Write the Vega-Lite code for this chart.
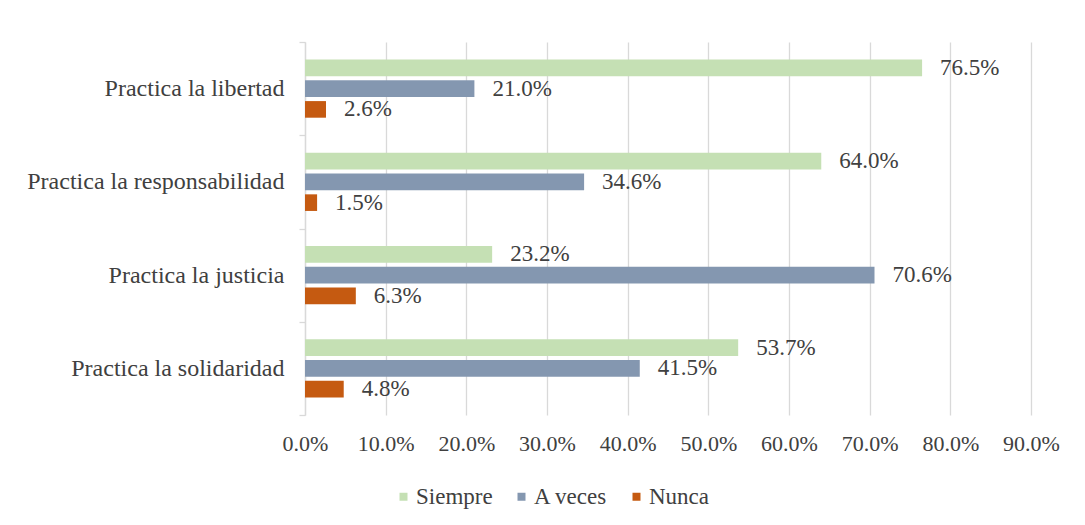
{
  "$schema": "https://vega.github.io/schema/vega-lite/v6.json",
  "width": 726,
  "height": 373,
  "autosize": {"type": "none"},
  "padding": {"left": 305, "top": 42, "right": 54, "bottom": 110},
  "background": "white",
  "config": {"view": {"stroke": null}, "font": "Liberation Serif"},
  "data": {
    "values": [
      {"cat": "Practica la libertad", "serie": "Siempre", "v": 0.765},
      {"cat": "Practica la libertad", "serie": "A veces", "v": 0.210},
      {"cat": "Practica la libertad", "serie": "Nunca", "v": 0.026},
      {"cat": "Practica la responsabilidad", "serie": "Siempre", "v": 0.640},
      {"cat": "Practica la responsabilidad", "serie": "A veces", "v": 0.346},
      {"cat": "Practica la responsabilidad", "serie": "Nunca", "v": 0.015},
      {"cat": "Practica la justicia", "serie": "Siempre", "v": 0.232},
      {"cat": "Practica la justicia", "serie": "A veces", "v": 0.706},
      {"cat": "Practica la justicia", "serie": "Nunca", "v": 0.063},
      {"cat": "Practica la solidaridad", "serie": "Siempre", "v": 0.537},
      {"cat": "Practica la solidaridad", "serie": "A veces", "v": 0.415},
      {"cat": "Practica la solidaridad", "serie": "Nunca", "v": 0.048}
    ]
  },
  "encoding": {
    "y": {
      "field": "cat",
      "type": "nominal",
      "sort": ["Practica la libertad", "Practica la responsabilidad", "Practica la justicia", "Practica la solidaridad"],
      "scale": {"paddingInner": 0, "paddingOuter": 0},
      "axis": {
        "title": null,
        "domainColor": "#d9d9d9",
        "domainWidth": 1.3,
        "tickColor": "#d9d9d9",
        "tickWidth": 1.3,
        "tickSize": 6,
        "tickBand": "extent",
        "labelPadding": 15,
        "labelLimit": 400,
        "labelFont": "Liberation Serif",
        "labelFontSize": 24,
        "labelColor": "#404040",
        "grid": false
      }
    },
    "yOffset": {
      "field": "serie",
      "type": "nominal",
      "sort": ["Siempre", "A veces", "Nunca"],
      "scale": {"paddingInner": 0.2, "paddingOuter": 0.845}
    },
    "x": {
      "field": "v",
      "type": "quantitative",
      "scale": {"domain": [0, 0.9], "nice": false},
      "axis": {
        "title": null,
        "values": [0, 0.1, 0.2, 0.3, 0.4, 0.5, 0.6, 0.7, 0.8, 0.9],
        "format": ".1%",
        "labelOverlap": false,
        "labelFlush": false,
        "domain": false,
        "ticks": false,
        "grid": true,
        "gridColor": "#d9d9d9",
        "gridWidth": 1.3,
        "labelPadding": 18,
        "labelFont": "Liberation Serif",
        "labelFontSize": 22,
        "labelColor": "#404040"
      }
    }
  },
  "layer": [
    {
      "mark": {"type": "bar"},
      "encoding": {
        "color": {
          "field": "serie",
          "type": "nominal",
          "scale": {"domain": ["Siempre", "A veces", "Nunca"], "range": ["#c5e0b4", "#8497b0", "#c55a11"]},
          "legend": {
            "title": null,
            "orient": "none",
            "legendX": 87,
            "legendY": 443,
            "direction": "horizontal",
            "symbolType": "square",
            "symbolSize": 64,
            "symbolStrokeWidth": 0,
            "labelFont": "Liberation Serif",
            "labelFontSize": 23,
            "labelColor": "#404040",
            "labelOffset": 1,
            "columnPadding": 17,
            "padding": 0
          }
        }
      }
    },
    {
      "mark": {"type": "text", "align": "left", "baseline": "middle", "dx": 18, "fontSize": 23, "font": "Liberation Serif", "color": "#404040"},
      "encoding": {"text": {"field": "v", "type": "quantitative", "format": ".1%"}}
    }
  ]
}
